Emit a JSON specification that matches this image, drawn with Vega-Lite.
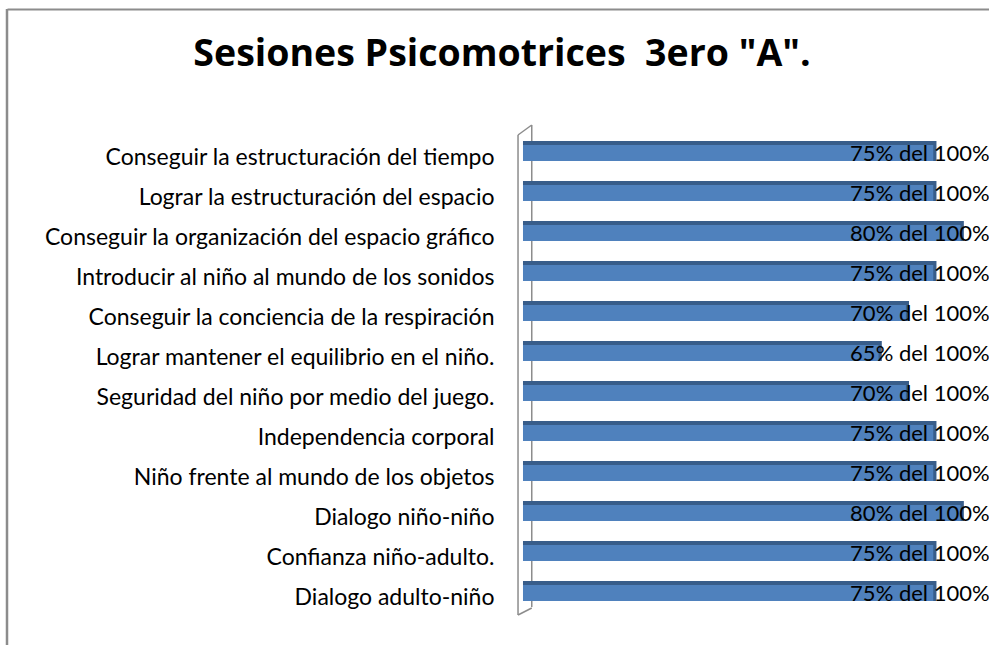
{
  "$schema": "https://vega.github.io/schema/vega-lite/v6.json",
  "width": 982,
  "height": 636,
  "autosize": {"type": "none"},
  "padding": {"left": 7, "top": 9, "right": 0, "bottom": 0},
  "background": "white",
  "config": {
    "view": {"stroke": null},
    "font": "Lato",
    "axisX": {"domain": true, "domainColor": "#8c8c8c", "domainWidth": 2, "labels": false, "ticks": false, "grid": false},
    "axisY": {"domain": false, "ticks": false, "tickSize": 0, "grid": false, "offset": -511, "labelPadding": 24, "labelFont": "Lato", "labelFontSize": 23, "labelColor": "#000000", "labelOffset": 7, "labelLimit": 600}
  },
  "title": {
    "text": "Sesiones Psicomotrices \u00a03ero \"A\".",
    "font": "Open Sans",
    "fontSize": 37.5,
    "fontWeight": "bold",
    "color": "#000000",
    "anchor": "middle",
    "frame": "group",
    "offset": -66,
    "dx": 4
  },
  "datasets": {
    "main": [
      {"tarea": "Conseguir la estructuración del tiempo", "valor": 75, "etiqueta": "75% del 100%"},
      {"tarea": "Lograr la estructuración del espacio", "valor": 75, "etiqueta": "75% del 100%"},
      {"tarea": "Conseguir la organización del espacio gráfico", "valor": 80, "etiqueta": "80% del 100%"},
      {"tarea": "Introducir al niño al mundo de los sonidos", "valor": 75, "etiqueta": "75% del 100%"},
      {"tarea": "Conseguir la conciencia de la respiración", "valor": 70, "etiqueta": "70% del 100%"},
      {"tarea": "Lograr mantener el equilibrio en el niño.", "valor": 65, "etiqueta": "65% del 100%"},
      {"tarea": "Seguridad del niño por medio del juego.", "valor": 70, "etiqueta": "70% del 100%"},
      {"tarea": "Independencia corporal", "valor": 75, "etiqueta": "75% del 100%"},
      {"tarea": "Niño frente al mundo de los objetos", "valor": 75, "etiqueta": "75% del 100%"},
      {"tarea": "Dialogo niño-niño", "valor": 80, "etiqueta": "80% del 100%"},
      {"tarea": "Confianza niño-adulto.", "valor": 75, "etiqueta": "75% del 100%"},
      {"tarea": "Dialogo adulto-niño", "valor": 75, "etiqueta": "75% del 100%"}
    ],
    "one": [{}]
  },
  "layer": [
    {
      "data": {"name": "main"},
      "mark": {"type": "bar", "color": "#385d8a", "xOffset": 3},
      "encoding": {
        "x": {
          "field": "valor",
          "type": "quantitative",
          "scale": {"domain": [-94.33, 85.19], "nice": false, "zero": false},
          "axis": {"orient": "top", "title": null}
        },
        "x2": {"datum": 0},
        "y": {
          "field": "tarea",
          "type": "nominal",
          "sort": null,
          "scale": {
            "domain": [
              "Conseguir la estructuración del tiempo",
              "Lograr la estructuración del espacio",
              "Conseguir la organización del espacio gráfico",
              "Introducir al niño al mundo de los sonidos",
              "Conseguir la conciencia de la respiración",
              "Lograr mantener el equilibrio en el niño.",
              "Seguridad del niño por medio del juego.",
              "Independencia corporal",
              "Niño frente al mundo de los objetos",
              "Dialogo niño-niño",
              "Confianza niño-adulto.",
              "Dialogo adulto-niño"
            ],
            "range": [122, 602],
            "paddingInner": 0.5,
            "paddingOuter": 0.25
          },
          "axis": {"title": null}
        }
      }
    },
    {
      "data": {"name": "one"},
      "mark": {"type": "rule", "color": "#8c8c8c", "strokeWidth": 2.5},
      "encoding": {"x": {"datum": -94.33, "type": "quantitative", "axis": {"orient": "top", "title": null}}}
    },
    {
      "data": {"name": "one"},
      "mark": {"type": "rule", "color": "#8c8c8c", "strokeWidth": 1.5, "yOffset": -16, "y2Offset": 6},
      "encoding": {
        "x": {"datum": 1.6, "type": "quantitative", "axis": {"orient": "top", "title": null}},
        "y": {"datum": "Conseguir la estructuración del tiempo", "type": "nominal", "bandPosition": 0, "axis": {"title": null}},
        "y2": {"datum": "Dialogo adulto-niño", "bandPosition": 1}
      }
    },
    {
      "data": {"name": "one"},
      "mark": {"type": "rule", "color": "#8c8c8c", "strokeWidth": 1.5, "yOffset": -6, "y2Offset": 14},
      "encoding": {
        "x": {"datum": -0.91, "type": "quantitative", "axis": {"orient": "top", "title": null}},
        "y": {"datum": "Conseguir la estructuración del tiempo", "type": "nominal", "bandPosition": 0, "axis": {"title": null}},
        "y2": {"datum": "Dialogo adulto-niño", "bandPosition": 1}
      }
    },
    {
      "data": {"name": "one"},
      "mark": {"type": "rule", "color": "#8c8c8c", "strokeWidth": 1.5, "yOffset": -6, "y2Offset": -16},
      "encoding": {
        "x": {"datum": -0.91, "type": "quantitative", "axis": {"orient": "top", "title": null}},
        "x2": {"datum": 1.6},
        "y": {"datum": "Conseguir la estructuración del tiempo", "type": "nominal", "bandPosition": 0, "axis": {"title": null}},
        "y2": {"datum": "Conseguir la estructuración del tiempo", "bandPosition": 0}
      }
    },
    {
      "data": {"name": "one"},
      "mark": {"type": "rule", "color": "#8c8c8c", "strokeWidth": 1.5, "yOffset": 14, "y2Offset": 7},
      "encoding": {
        "x": {"datum": -0.91, "type": "quantitative", "axis": {"orient": "top", "title": null}},
        "x2": {"datum": 1.6},
        "y": {"datum": "Dialogo adulto-niño", "type": "nominal", "bandPosition": 1, "axis": {"title": null}},
        "y2": {"datum": "Dialogo adulto-niño", "bandPosition": 1}
      }
    },
    {
      "data": {"name": "main"},
      "mark": {"type": "bar", "color": "#385d8a", "xOffset": 3},
      "encoding": {
        "x": {"field": "valor", "type": "quantitative", "axis": {"orient": "top", "title": null}},
        "x2": {"datum": 0},
        "y": {"field": "tarea", "type": "nominal", "sort": null, "axis": {"title": null}}
      }
    },
    {
      "data": {"name": "main"},
      "mark": {"type": "bar", "color": "#4f81bd", "size": 16, "yOffset": 2},
      "encoding": {
        "x": {"field": "valor", "type": "quantitative", "axis": {"orient": "top", "title": null}},
        "x2": {"datum": 0},
        "y": {"field": "tarea", "type": "nominal", "sort": null, "axis": {"title": null}}
      }
    },
    {
      "data": {"name": "main"},
      "mark": {"type": "text", "align": "left", "baseline": "middle", "dy": 3, "font": "Lato", "fontSize": 22, "color": "#000000"},
      "encoding": {
        "x": {"datum": 59.8, "type": "quantitative", "axis": {"orient": "top", "title": null}},
        "y": {"field": "tarea", "type": "nominal", "sort": null, "axis": {"title": null}},
        "text": {"field": "etiqueta"}
      }
    }
  ]
}
